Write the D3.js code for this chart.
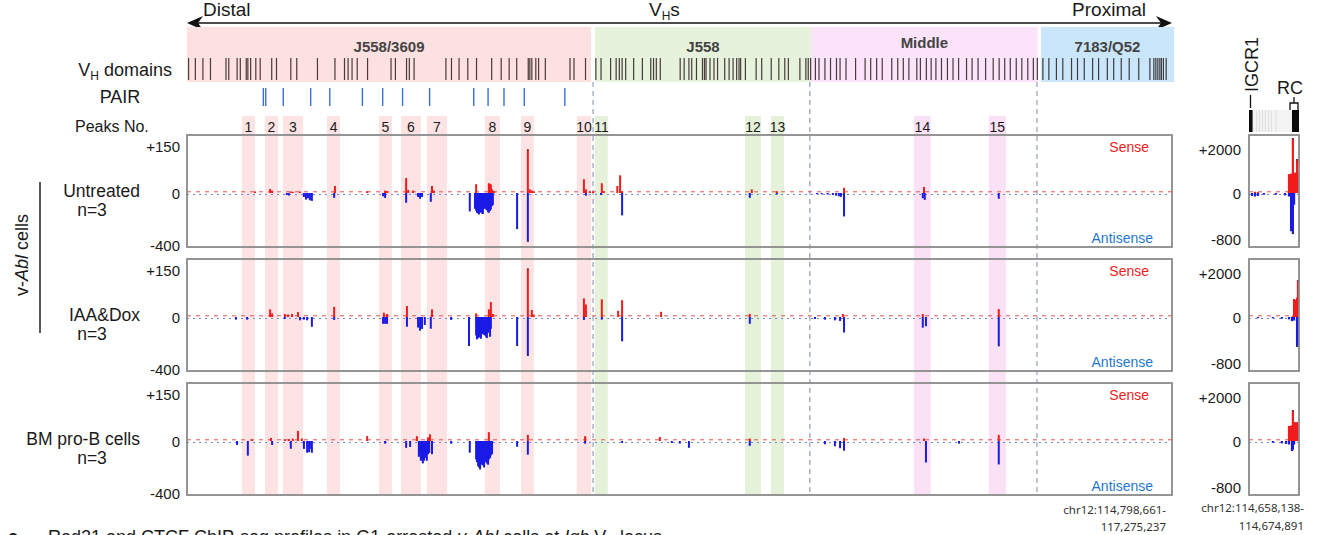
<!DOCTYPE html>
<html>
<head>
<meta charset="utf-8">
<script src="https://cdn.jsdelivr.net/npm/d3@7"></script>
<style>
  body { margin: 0; background: #fff; }
  svg text { font-family: "Liberation Sans", Arial, sans-serif; fill: #1a1a1a; }
</style>
</head>
<body>
<svg id="chart" width="1318" height="535"></svg>
<script>
// ---- data (positions in kb from the distal end of the VH locus) ----
const locusKb = 2476.6;   // chr12:114,798,661-117,275,237
const rcKb = 16.75;       // chr12:114,658,138-114,674,891

const domains = [
  { name: "J558/3609", start: 0, end: 1016 },
  { name: "J558", start: 1026, end: 1569 },
  { name: "Middle", start: 1569, end: 2139 },
  { name: "7183/Q52", start: 2147, end: 2482 }
];
const domainBoundaries = [1021, 1566, 2137];

const vhSegments = [4, 21, 40, 59, 98, 105, 126, 134, 149, 153, 160, 173, 184, 213, 225, 261, 276, 328, 372, 396,
  405, 415, 428, 454, 513, 524, 552, 559, 571, 651, 665, 684, 706, 728, 766, 790, 810, 829, 858, 862, 867, 877, 884,
  901, 963, 973, 1002,
  1028, 1041, 1065, 1079, 1087, 1094, 1103, 1123, 1145, 1166, 1173, 1180, 1190, 1240, 1250, 1262, 1269, 1281, 1296,
  1301, 1305, 1315, 1325, 1334, 1352, 1363, 1373, 1382, 1388, 1392, 1404, 1431, 1445, 1469, 1488, 1503, 1512, 1541,
  1556, 1562, 1568,
  1580, 1589, 1604, 1618, 1633, 1642, 1657, 1681, 1705, 1719, 1734, 1748, 1772, 1787, 1801, 1815, 1835, 1844, 1859,
  1871, 1883, 1897, 1912, 1926, 1940, 1960, 1974, 1989, 2008, 2027, 2042, 2056, 2070, 2085, 2099, 2114, 2128, 2138,
  2152, 2167, 2186, 2202, 2224, 2239, 2256, 2277, 2292, 2314, 2330, 2349, 2369, 2393, 2421, 2431, 2436, 2441, 2446,
  2450, 2455, 2462];

const pairSites = [192, 198, 242, 311, 359, 441, 492, 542, 610, 721, 757, 797, 848, 950];

const peakNumbers = [1, 2, 3, 4, 5, 6, 7, 8, 9, 10, 11, 12, 13, 14, 15];
const peakStarts = [138, 196, 241, 352, 483, 538, 603, 749, 840, 980, 1026, 1403, 1468, 1828, 2016];
const peakEnds = [171, 229, 292, 385, 515, 588, 654, 787, 872, 1016, 1058, 1443, 1501, 1870, 2059];
const peakDomains = ["J558/3609", "J558/3609", "J558/3609", "J558/3609", "J558/3609", "J558/3609", "J558/3609",
  "J558/3609", "J558/3609", "J558/3609", "J558", "J558", "J558", "Middle", "Middle"];

const trackNames = ["Untreated", "IAA&Dox", "BM pro-B cells"];
const mainTicks = [150, 0, -400];
const rcTicks = [2000, 0, -800];

const senseUntreated = [[171, 5], [209, 13], [214, 8], [261, 5], [266, 4], [284, 5], [372, 23], [453, 6], [498, 8],
  [503, 6], [551, 49], [556, 10], [568, 8], [616, 23], [621, 8], [727, 29], [759, 32], [762, 30], [764, 28], [767, 12],
  [772, 6], [857, 143], [862, 12], [867, 8], [872, 6], [998, 45], [1003, 12], [1013, 6], [1021, 5], [1043, 32],
  [1048, 6], [1082, 23], [1089, 58], [1094, 6], [1420, 12], [1483, 6], [1652, 17], [1853, 20]];
const antiUntreated = [[251, -15], [256, -20], [294, -30], [299, -50], [304, -40], [309, -55], [314, -60], [370, -37],
  [493, -25], [498, -37], [551, -74], [581, -30], [586, -44], [591, -30], [613, -67], [711, -140], [724, -120],
  [727, -135], [729, -150], [732, -155], [734, -163], [737, -150], [739, -140], [742, -155], [744, -160], [747, -120],
  [749, -110], [752, -125], [754, -130], [757, -145], [759, -150], [762, -135], [764, -125], [767, -100], [769, -90],
  [830, -274], [857, -370], [1003, -20], [1041, -15], [1094, -170], [1415, -37], [1483, -10], [1584, -8], [1596, -10],
  [1611, -12], [1624, -15], [1632, -20], [1639, -25], [1644, -30], [1652, -178], [1850, -40], [1855, -52], [2041, -44]];

const senseIAA = [[209, 25], [214, 12], [246, 10], [254, 8], [264, 10], [279, 16], [370, 33], [495, 14], [503, 10],
  [553, 36], [616, 25], [727, 12], [759, 25], [764, 49], [769, 10], [857, 159], [867, 23], [872, 8], [998, 61],
  [1003, 41], [1043, 58], [1084, 20], [1094, 55], [1192, 17], [1415, 10], [1649, 10], [1850, 10], [2041, 26]];
const antiIAA = [[123, -20], [151, -20], [246, -15], [284, -25], [294, -20], [302, -25], [314, -74], [370, -22],
  [493, -52], [498, -52], [503, -52], [553, -74], [581, -80], [586, -104], [591, -90], [598, -60], [613, -89],
  [664, -22], [709, -220], [727, -140], [729, -170], [732, -160], [734, -150], [737, -155], [739, -165], [742, -130],
  [744, -120], [747, -135], [749, -140], [752, -150], [754, -160], [757, -120], [759, -110], [762, -150], [764, -90],
  [830, -220], [857, -296], [998, -22], [1043, -20], [1094, -185], [1415, -52], [1579, -15], [1604, -20], [1629, -25],
  [1642, -30], [1652, -118], [1850, -81], [1858, -70], [2041, -222]];

const senseBM = [[163, 5], [211, 10], [246, 6], [256, 6], [266, 8], [279, 33], [289, 8], [453, 16], [578, 16],
  [606, 12], [611, 22], [759, 29], [857, 20], [1001, 16], [1189, 13], [1415, 8], [1652, 10], [1853, 8], [2041, 20]];
const antiBM = [[126, -30], [153, -111], [214, -30], [261, -59], [294, -60], [302, -89], [307, -85], [309, -60],
  [314, -89], [498, -20], [551, -52], [561, -45], [583, -120], [586, -100], [588, -150], [591, -140], [593, -170],
  [596, -150], [598, -130], [601, -120], [603, -150], [606, -100], [609, -90], [616, -100], [664, -20], [711, -89],
  [727, -140], [729, -160], [732, -190], [734, -200], [737, -215], [739, -180], [742, -170], [744, -185], [747, -200],
  [749, -160], [752, -150], [754, -170], [757, -180], [759, -140], [762, -130], [764, -110], [767, -100], [830, -44],
  [857, -104], [1001, -20], [1094, -15], [1219, -15], [1239, -20], [1262, -52], [1415, -37], [1604, -25], [1629, -40],
  [1642, -55], [1652, -74], [1858, -163], [1941, -20], [2041, -178]];

// IGCR1 - RC window
const rcSenseUntreated = [[2.0, 60], [3.0, 40], [13.4, 880], [14.1, 900], [14.7, 2560], [15.1, 900], [15.4, 950],
  [16.1, 1580], [16.4, 900]];
const rcAntiUntreated = [[1.0, -50], [2.0, -60], [3.0, -50], [5.0, -30], [9.0, -30], [12.0, -40], [13.4, -60],
  [14.1, -650], [14.7, -700], [15.1, -200]];
const rcSenseIAA = [[14.7, 60], [15.1, 840], [15.4, 800], [16.1, 900], [16.4, 1720]];
const rcAntiIAA = [[3.0, -20], [8.0, -20], [11.0, -30], [13.4, -40], [14.4, -70], [15.1, -60], [16.1, -510],
  [16.4, -500]];
const rcSenseBM = [[13.4, 700], [14.1, 720], [14.7, 1440], [15.1, 700], [15.4, 880], [16.1, 880], [16.4, 700]];
const rcAntiBM = [[8.0, -30], [11.0, -40], [12.4, -50], [13.4, -60], [14.4, -170], [14.7, -150], [15.1, -60]];
const igcr1 = [0, 1.2];
const rcElement = [14.4, 16.75];

const senseSets = [senseUntreated, senseIAA, senseBM];
const antiSets = [antiUntreated, antiIAA, antiBM];
const rcSenseSets = [rcSenseUntreated, rcSenseIAA, rcSenseBM];
const rcAntiSets = [rcAntiUntreated, rcAntiIAA, rcAntiBM];

// ---- styles ----
const domainColor = { "J558/3609": "#fde1e1", "J558": "#e7f2dc", "Middle": "#fbe3fa", "7183/Q52": "#c9e6fa" };
const shadeColor = { "J558/3609": "#fde3e3", "J558": "#e5f1d9", "Middle": "#fbe1f6" };
const red = "#f21c1c", blue = "#1a1ae6";

const svg = d3.select("#chart");
const x = d3.scaleLinear().domain([0, locusKb]).range([187, 1172]);
const xr = d3.scaleLinear().domain([0, rcKb]).range([1249, 1299]);
const trackH = 112;
const trackTop = i => 135 + i * 124;
const yMain = i => d3.scaleLinear().domain([-410, 0, 190]).range([trackTop(i) + trackH, trackTop(i) + 58, trackTop(i)]);
const yRc = i => d3.scaleLinear().domain([-920, 0, 2700]).range([trackTop(i) + trackH, trackTop(i) + 58, trackTop(i)]);

// header arrow
svg.append("line").attr("x1", 195).attr("x2", 1164).attr("y1", 23).attr("y2", 23)
  .attr("stroke", "#111").attr("stroke-width", 1.6);
svg.append("path").attr("d", "M187,23 L203,16 L198,23 L203,30 Z").attr("fill", "#111");
svg.append("path").attr("d", "M1172,23 L1156,16 L1161,23 L1156,30 Z").attr("fill", "#111");
svg.append("text").attr("x", 203).attr("y", 16).attr("font-size", 19).text("Distal");
svg.append("text").attr("x", 1146).attr("y", 16).attr("font-size", 19).attr("text-anchor", "end").text("Proximal");
svg.append("text").attr("x", 649).attr("y", 16).attr("font-size", 19).call(t => {
  t.append("tspan").text("V");
  t.append("tspan").attr("font-size", 12).attr("dy", 4).text("H");
  t.append("tspan").attr("dy", -4).text("s");
});

// VH domains
const dom = svg.append("g");
dom.selectAll("rect").data(domains).join("rect")
  .attr("x", d => x(d.start)).attr("width", d => x(d.end) - x(d.start))
  .attr("y", 27).attr("height", 55).attr("fill", d => domainColor[d.name]);
dom.selectAll("text").data(domains).join("text")
  .attr("x", d => (x(d.start) + x(d.end)) / 2)
  .attr("y", d => d.name === "Middle" ? 48 : 52)
  .attr("text-anchor", "middle").attr("font-size", 15).attr("font-weight", "bold")
  .style("fill", "#444").text(d => d.name);
svg.append("g").selectAll("line").data(vhSegments).join("line")
  .attr("x1", d => x(d)).attr("x2", d => x(d)).attr("y1", 58).attr("y2", 80)
  .attr("stroke", "#2b1d1d").attr("stroke-width", 1.2).attr("opacity", 0.85);

svg.append("text").attr("x", 172).attr("y", 76).attr("text-anchor", "end").attr("font-size", 18).call(t => {
  t.append("tspan").text("V");
  t.append("tspan").attr("font-size", 12).attr("dy", 4).text("H");
  t.append("tspan").attr("dy", -4).text(" domains");
});

// PAIR
svg.append("text").attr("x", 120).attr("y", 103).attr("text-anchor", "middle").attr("font-size", 18).text("PAIR");
svg.append("g").selectAll("line").data(pairSites).join("line")
  .attr("x1", d => x(d)).attr("x2", d => x(d)).attr("y1", 88).attr("y2", 106)
  .attr("stroke", "#3b6fd6").attr("stroke-width", 1.4);

// peaks
svg.append("text").attr("x", 75).attr("y", 132).attr("font-size", 16).text("Peaks No.");
const pk = svg.append("g");
pk.selectAll("rect").data(peakNumbers).join("rect")
  .attr("x", (d, i) => x(peakStarts[i])).attr("width", (d, i) => x(peakEnds[i]) - x(peakStarts[i]))
  .attr("y", 116).attr("height", 378).attr("fill", (d, i) => shadeColor[peakDomains[i]]);
pk.selectAll("text").data(peakNumbers).join("text")
  .attr("x", (d, i) => (x(peakStarts[i]) + x(peakEnds[i])) / 2).attr("y", 132)
  .attr("text-anchor", "middle").attr("font-size", 14).text(d => d);

// domain boundaries
svg.append("g").selectAll("line").data(domainBoundaries).join("line")
  .attr("x1", d => x(d)).attr("x2", d => x(d)).attr("y1", 82).attr("y2", 496)
  .attr("stroke", "#9aa8bd").attr("stroke-width", 1.3).attr("stroke-dasharray", "5,4");

// tracks
trackNames.forEach((name, i) => {
  const top = trackTop(i), y = yMain(i), yr = yRc(i), zero = y(0);
  const g = svg.append("g");

  const bars = (data, sx, sy, w, col) => {
    g.append("g").selectAll("rect").data(data).join("rect")
      .attr("x", d => sx(d[0]) - w / 2).attr("width", w)
      .attr("y", d => Math.min(sy(0), sy(d[1])))
      .attr("height", d => Math.abs(sy(d[1]) - sy(0)))
      .attr("fill", col);
    // dark tip on the tallest single peaks
    g.append("g").selectAll("rect").data(data.filter(d => Math.abs(sy(d[1]) - sy(0)) > 26)).join("rect")
      .attr("x", d => sx(d[0]) - 0.6).attr("width", 1.2)
      .attr("y", d => d[1] > 0 ? sy(d[1]) : sy(d[1]) - 1.5).attr("height", 1.5)
      .attr("fill", "#333");
  };

  // baselines
  [[187, 1172], [1249, 1299]].forEach(([a, b]) => {
    g.append("line").attr("x1", a).attr("x2", b).attr("y1", zero - 1.2).attr("y2", zero - 1.2)
      .attr("stroke", "#e25555").attr("stroke-width", 1).attr("stroke-dasharray", "4,5");
    g.append("line").attr("x1", a).attr("x2", b).attr("y1", zero + 1.5).attr("y2", zero + 1.5)
      .attr("stroke", "#7186d8").attr("stroke-width", 1).attr("stroke-dasharray", "2,4");
  });

  bars(senseSets[i], x, y, 2, red);
  bars(antiSets[i], x, y, 2, blue);
  bars(rcSenseSets[i], xr, yr, 2.2, red);
  bars(rcAntiSets[i], xr, yr, 2.2, blue);

  // borders
  g.append("rect").attr("x", 187).attr("y", top).attr("width", 985).attr("height", trackH)
    .attr("fill", "none").attr("stroke", "#8a8a8a").attr("stroke-width", 1.8);
  g.append("rect").attr("x", 1249).attr("y", top).attr("width", 50).attr("height", trackH)
    .attr("fill", "none").attr("stroke", "#8a8a8a").attr("stroke-width", 1.8);

  // tick labels
  g.append("g").selectAll("text").data(mainTicks).join("text")
    .attr("x", 180).attr("y", d => y(d) + (d === 0 ? 6 : 5)).attr("text-anchor", "end").attr("font-size", 15)
    .text(d => d > 0 ? "+" + d : d);
  g.append("g").selectAll("text").data(rcTicks).join("text")
    .attr("x", 1241).attr("y", d => yr(d) + (d === 0 ? 6 : 5)).attr("text-anchor", "end").attr("font-size", 15)
    .text(d => d > 0 ? "+" + d : d);

  // strand labels
  g.append("text").attr("x", 1149).attr("y", top + 17).attr("text-anchor", "end").attr("font-size", 14)
    .style("fill", "#f21c1c").text("Sense");
  g.append("text").attr("x", 1153).attr("y", top + 108).attr("text-anchor", "end").attr("font-size", 14)
    .style("fill", "#1f78d0").text("Antisense");

  // sample labels
  g.append("text").attr("x", 140).attr("y", zero + 3.5).attr("text-anchor", "end").attr("font-size", 17.5).text(name);
  g.append("text").attr("x", 92).attr("y", zero + 23).attr("text-anchor", "middle").attr("font-size", 17.5).text("n=3");
});

// v-Abl cells bracket
svg.append("line").attr("x1", 40).attr("x2", 40).attr("y1", 182).attr("y2", 333)
  .attr("stroke", "#222").attr("stroke-width", 1.5);
svg.append("text").attr("transform", "translate(28,255) rotate(-90)").attr("text-anchor", "middle")
  .attr("font-size", 18).call(t => {
    t.append("tspan").text("v-");
    t.append("tspan").attr("font-style", "italic").text("Abl");
    t.append("tspan").text(" cells");
  });

// right panel header: IGCR1 and RC
const gene = svg.append("g");
gene.append("rect").attr("x", xr(0)).attr("y", 110).attr("width", xr(rcKb) - xr(0)).attr("height", 22).attr("fill", "#f3f3f3");
gene.selectAll("line.stripe").data([2.5, 3.5, 4.5, 5.5, 6.5, 7.5, 9.0]).join("line")
  .attr("x1", d => xr(d)).attr("x2", d => xr(d)).attr("y1", 110).attr("y2", 132)
  .attr("stroke", "#dedede").attr("stroke-width", 1);
gene.append("rect").attr("x", xr(igcr1[0])).attr("y", 110).attr("width", xr(igcr1[1]) - xr(igcr1[0])).attr("height", 22).attr("fill", "#0a0a0a");
gene.append("rect").attr("x", xr(rcElement[0])).attr("y", 110).attr("width", xr(rcElement[1]) - xr(rcElement[0])).attr("height", 22).attr("fill", "#0a0a0a");
gene.append("line").attr("x1", 1250.5).attr("x2", 1250.5).attr("y1", 95).attr("y2", 108).attr("stroke", "#111").attr("stroke-width", 1.3);
gene.append("text").attr("transform", "translate(1258,92) rotate(-90)").attr("font-size", 18).text("IGCR1");
gene.append("text").attr("x", 1290).attr("y", 94).attr("text-anchor", "middle").attr("font-size", 18).text("RC");
gene.append("path").attr("d", "M1290,110 V103 H1298 V110 M1294,103 V97").attr("fill", "none").attr("stroke", "#111").attr("stroke-width", 1.3);

// coordinates
const coord = svg.append("g");
[["chr12:114,798,661-", 1166, 514], ["117,275,237", 1166, 531], ["chr12:114,658,138-", 1304, 512], ["114,674,891", 1304, 530]]
  .forEach(([t, cx, cy]) => coord.append("text").attr("x", cx).attr("y", cy).attr("text-anchor", "end")
    .attr("font-size", 11.5).style("font-family", '"Noto Sans", sans-serif').style("fill", "#333").text(t));

// caption (cut off at the bottom edge, as in the figure)
svg.append("text").attr("x", 8).attr("y", 543).attr("font-size", 18).attr("font-weight", "bold").text("c");
svg.append("text").attr("x", 48).attr("y", 543).attr("font-size", 18).call(t => {
  t.append("tspan").text("Rad21 and CTCF ChIP-seq profiles in G1-arrested ");
  t.append("tspan").attr("font-style", "italic").text("v-Abl");
  t.append("tspan").text(" cells at ");
  t.append("tspan").attr("font-style", "italic").text("Igh");
  t.append("tspan").text(" V");
  t.append("tspan").attr("font-size", 12).attr("dy", 4).text("H");
  t.append("tspan").attr("dy", -4).text(" locus");
});
</script>
</body>
</html>
